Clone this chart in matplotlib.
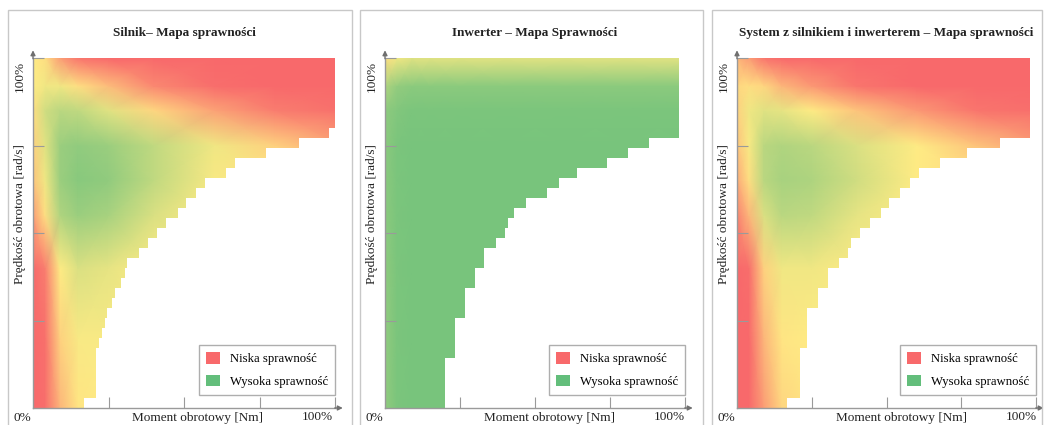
import numpy as np
import matplotlib
matplotlib.use("Agg")
import matplotlib.pyplot as plt
from matplotlib.colors import LinearSegmentedColormap
from matplotlib.patches import Rectangle, Patch

plt.rcParams['font.family'] = ['Liberation Serif', 'DejaVu Serif']

# siatka wezlow mapy (moment [%], predkosc [%])
torque_nodes = [0, 4, 9, 15, 25, 40, 60, 80, 102]
speed_nodes = [0, 20, 40, 55, 65, 75, 85, 92, 100]

# sprawnosc znormalizowana: 0 = niska (czerwony), 1 = wysoka (zielony)
motor_eff = [
    [0.00, 0.02, 0.30, 0.48, 0.50, 0.50, 0.50, 0.50, 0.50],
    [0.00, 0.03, 0.40, 0.52, 0.52, 0.50, 0.50, 0.50, 0.50],
    [0.00, 0.08, 0.50, 0.62, 0.58, 0.50, 0.50, 0.50, 0.50],
    [0.20, 0.45, 0.75, 0.82, 0.78, 0.62, 0.50, 0.50, 0.50],
    [0.35, 0.55, 0.82, 0.88, 0.85, 0.70, 0.52, 0.50, 0.50],
    [0.40, 0.60, 0.82, 0.85, 0.82, 0.70, 0.55, 0.40, 0.22],
    [0.45, 0.65, 0.72, 0.70, 0.60, 0.42, 0.22, 0.08, 0.03],
    [0.50, 0.55, 0.55, 0.45, 0.32, 0.12, 0.02, 0.00, 0.00],
    [0.50, 0.45, 0.20, 0.05, 0.00, 0.00, 0.00, 0.00, 0.00],
]
inverter_eff = [
    [0.85, 0.92, 0.93, 0.93, 0.93, 0.93, 0.93, 0.93, 0.93],
    [0.85, 0.92, 0.93, 0.93, 0.93, 0.93, 0.93, 0.93, 0.93],
    [0.86, 0.92, 0.93, 0.93, 0.93, 0.93, 0.93, 0.93, 0.93],
    [0.87, 0.92, 0.93, 0.93, 0.93, 0.93, 0.93, 0.93, 0.93],
    [0.87, 0.92, 0.93, 0.93, 0.93, 0.93, 0.93, 0.93, 0.93],
    [0.87, 0.92, 0.93, 0.93, 0.93, 0.93, 0.93, 0.93, 0.93],
    [0.86, 0.90, 0.92, 0.92, 0.92, 0.92, 0.92, 0.92, 0.92],
    [0.75, 0.84, 0.87, 0.87, 0.87, 0.87, 0.87, 0.87, 0.87],
    [0.45, 0.55, 0.60, 0.60, 0.60, 0.60, 0.60, 0.60, 0.60],
]
system_eff = [
    [0.00, 0.00, 0.20, 0.42, 0.48, 0.50, 0.50, 0.50, 0.50],
    [0.00, 0.00, 0.30, 0.48, 0.50, 0.50, 0.50, 0.50, 0.50],
    [0.00, 0.02, 0.40, 0.55, 0.55, 0.50, 0.50, 0.50, 0.50],
    [0.10, 0.30, 0.62, 0.72, 0.70, 0.58, 0.50, 0.50, 0.50],
    [0.25, 0.45, 0.72, 0.78, 0.76, 0.65, 0.50, 0.50, 0.50],
    [0.35, 0.52, 0.72, 0.75, 0.72, 0.62, 0.50, 0.35, 0.18],
    [0.40, 0.55, 0.60, 0.58, 0.50, 0.35, 0.18, 0.05, 0.02],
    [0.42, 0.45, 0.42, 0.30, 0.18, 0.05, 0.00, 0.00, 0.00],
    [0.30, 0.20, 0.05, 0.00, 0.00, 0.00, 0.00, 0.00, 0.00],
]

# maksymalny moment [%] dla kolejnych przedzialow predkosci (35 wierszy, od dolu)
motor_env = [17, 21, 21, 21, 21, 21, 22, 23, 24, 24.5, 26, 27, 29, 30.5, 31, 35, 38,
             41, 44, 48, 50.5, 54, 57, 64, 67, 77, 88, 98, 101, 101, 101, 101, 101, 101, 101]
inverter_env = [20, 20, 20, 20, 20, 23.3, 23.3, 23.3, 23.3, 26.7, 26.7, 26.7, 30, 30, 33, 33,
                37, 40, 41, 43, 47, 54, 58, 64, 74, 81, 88, 98, 98, 98, 98, 98, 98, 98, 98]
system_env = [16.7, 21, 21, 21, 21, 21, 23.4, 23.4, 23.4, 23.4, 27, 27, 30.5, 30.5, 34, 37,
              38, 41, 44.5, 48, 51, 54.5, 58, 61, 68, 77, 88, 98, 98, 98, 98, 98, 98, 98, 98]

titles = ["Silnik– Mapa sprawności", "Inwerter – Mapa Sprawności",
          "System z silnikiem i inwerterem – Mapa sprawności"]
legend_labels = ["Niska sprawność", "Wysoka sprawność"]

cmap = LinearSegmentedColormap.from_list("eff", ["#F8696B", "#FFEB84", "#63BE7B"])

W, H = 1044, 425
fig = plt.figure(figsize=(W / 100, H / 100), dpi=100)

panels = [(8, 352, 33, 335, motor_eff, motor_env),
          (360, 703, 385, 685, inverter_eff, inverter_env),
          (712, 1042, 737, 1036, system_eff, system_env)]

for i, (fl, fr, al, ar, eff, env) in enumerate(panels):
    # ramka panelu
    fig.patches.append(Rectangle((fl / W, -0.05), (fr - fl) / W, 1.05 - 10 / H,
                                 transform=fig.transFigure, fill=False,
                                 edgecolor="#c8c8c8", lw=1))
    top, bottom = 58, 408
    ax = fig.add_axes([al / W, 1 - bottom / H, (ar - al) / W, (bottom - top) / H])
    X, Y = np.meshgrid(torque_nodes, speed_nodes)
    ax.pcolormesh(X, Y, np.array(eff), cmap=cmap, vmin=0, vmax=1,
                  shading="gouraud", zorder=0.5)
    # obszar poza charakterystyka momentu
    n = len(env)
    edges = np.linspace(0, 100, n + 1)
    ys = np.repeat(edges, 2)[1:-1]
    xs = np.repeat(env, 2)
    ax.fill_betweenx(ys, xs, 110, color="white", lw=0, zorder=0.8)
    ax.fill_between([0, 110], 100, 105, color="white", lw=0, zorder=0.8)

    ax.set_xlim(0, 100)
    ax.set_ylim(0, 100)
    ax.set_facecolor("none")
    for s in ["top", "right"]:
        ax.spines[s].set_visible(False)
    for s in ["left", "bottom"]:
        ax.spines[s].set_color("#9a9a9a")
        ax.spines[s].set_linewidth(1)
    ax.set_xticks([25, 50, 75, 100])
    ax.set_yticks([25, 50, 75, 100])
    ax.tick_params(direction="in", length=8, color="#9a9a9a", width=0.8,
                   labelbottom=False, labelleft=False)
    ax.annotate("", xy=(1.035, 0), xytext=(0.99, 0), xycoords="axes fraction",
                arrowprops=dict(arrowstyle="-|>", color="#707070", lw=1, mutation_scale=7))
    ax.annotate("", xy=(0, 1.03), xytext=(0, 0.99), xycoords="axes fraction",
                arrowprops=dict(arrowstyle="-|>", color="#707070", lw=1, mutation_scale=7))

    handles = [Patch(facecolor="#F8696B", edgecolor="none"),
               Patch(facecolor="#63BE7B", edgecolor="none")]
    leg = ax.legend(handles, legend_labels, loc="lower right",
                    bbox_to_anchor=(1.0, 0.037), borderaxespad=0, fontsize=9.2,
                    frameon=True, fancybox=False, edgecolor="#9a9a9a",
                    handlelength=1.1, handleheight=1.0, borderpad=0.55,
                    labelspacing=0.75, handletextpad=0.75)
    leg.get_frame().set_linewidth(1)
    leg.set_zorder(5)

    cx = (al + ar) / 2
    fig.text(cx / W, 1 - 33 / H, titles[i], ha="center", va="center",
             fontsize=9.5, fontweight="bold", color="#222222")
    fig.text((al - 11) / W, 1 - 418 / H, "0%", ha="center", va="center",
             fontsize=9.5, color="#222222")
    fig.text((al + 164) / W, 1 - 418 / H, "Moment obrotowy [Nm]", ha="center",
             va="center", fontsize=9.5, color="#222222")
    fig.text((al + 284) / W, 1 - 417 / H, "100%", ha="center", va="center",
             fontsize=9.5, color="#222222")
    fig.text((al - 13) / W, 1 - 214 / H, "Prędkość obrotowa [rad/s]", ha="center",
             va="center", rotation=90, fontsize=9.5, color="#222222")
    fig.text((al - 13) / W, 1 - 76 / H, "100%", ha="center", va="center",
             rotation=90, fontsize=9.5, color="#222222")

fig.savefig("out.png", dpi=100)
